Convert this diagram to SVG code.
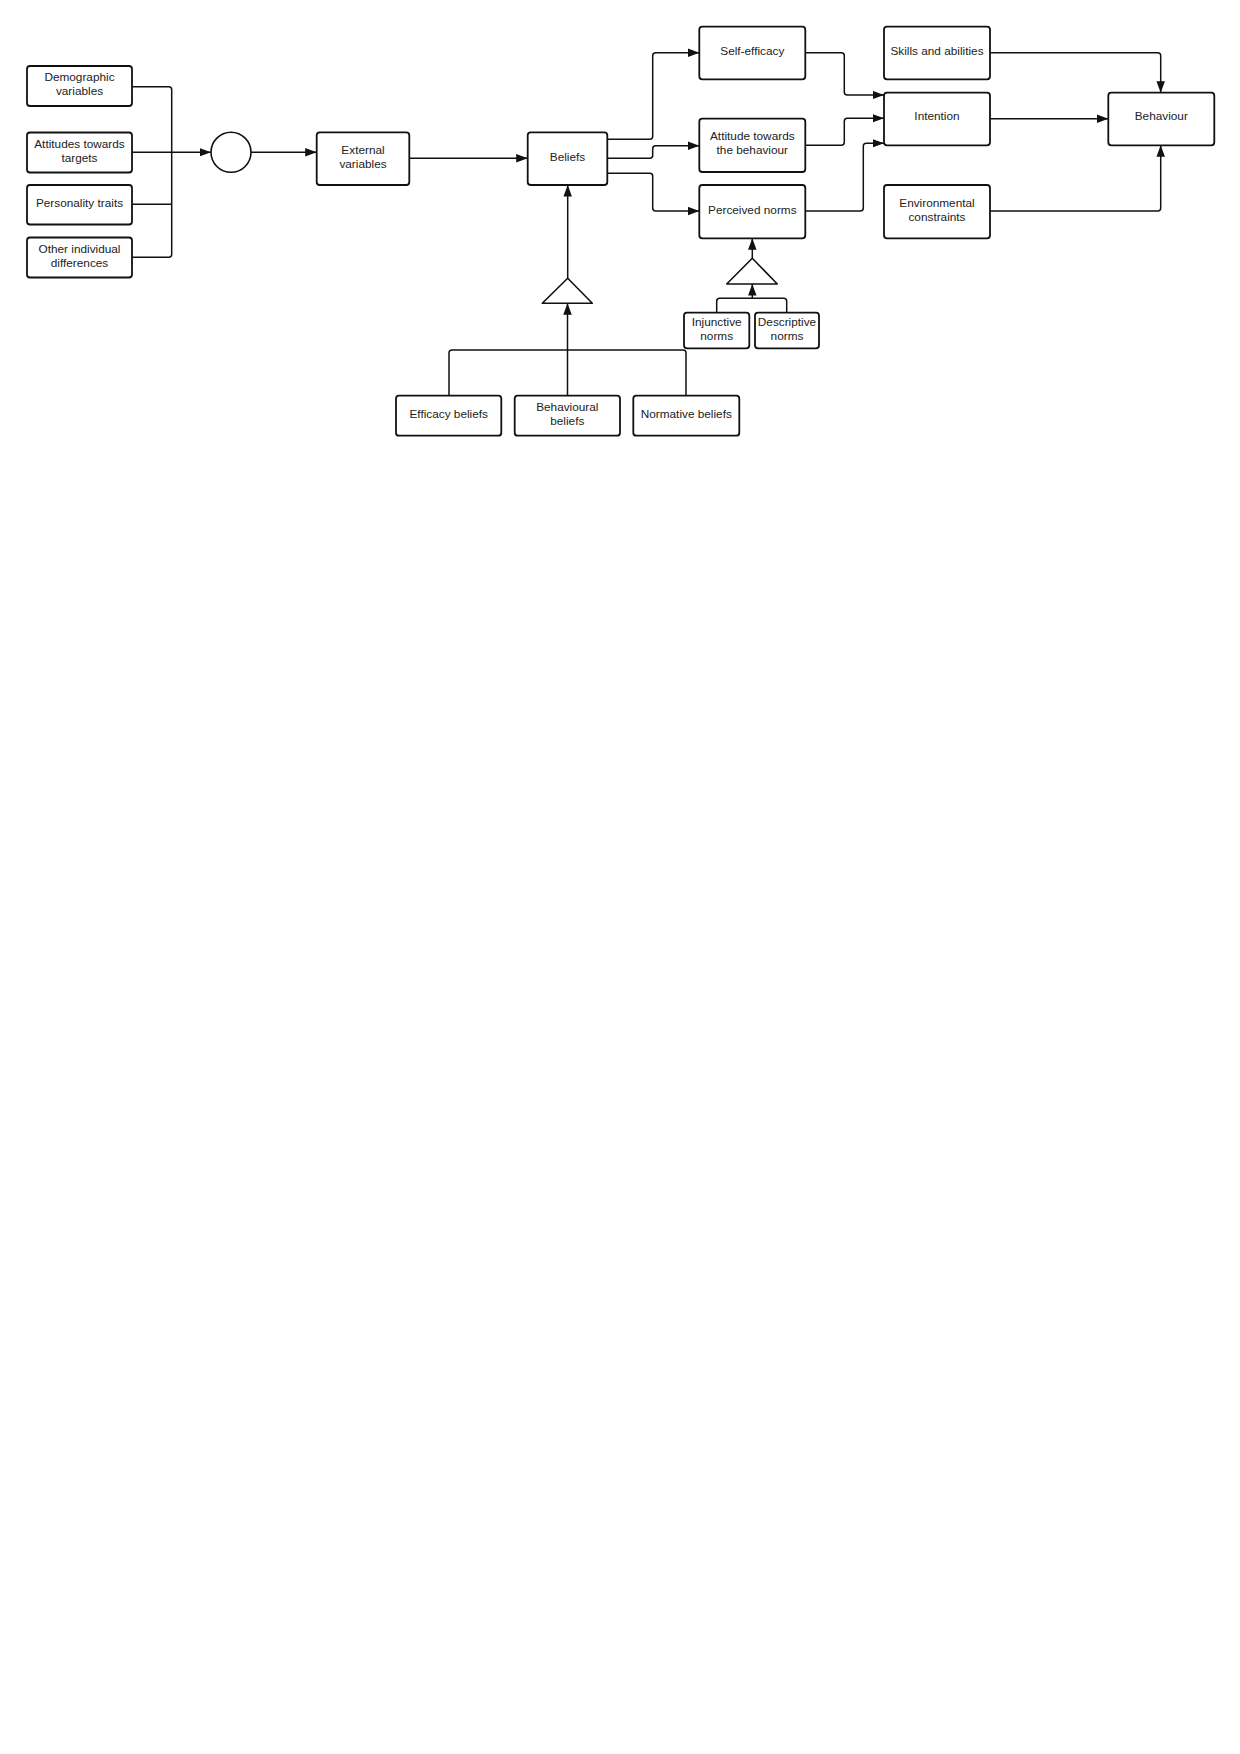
<svg xmlns="http://www.w3.org/2000/svg" width="1240" height="1754" viewBox="0 0 1240 1754">
  <style>
    .box { fill: #ffffff; stroke: #111111; stroke-width: 1.8; }
    .shape { fill: #ffffff; stroke: #111111; stroke-width: 1.6; }
    .wire { fill: none; stroke: #111111; stroke-width: 1.5; }
    .lbl { font-family: "Liberation Sans", Arial, sans-serif; font-size: 11.8px; fill: #222222; text-anchor: middle; }
  </style>
  <defs>
    <marker id="arrow" markerUnits="userSpaceOnUse" markerWidth="12" markerHeight="9" refX="11.5" refY="4.25" orient="auto">
      <path d="M0,0 L11.5,4.25 L0,8.5 z" fill="#111111"/>
    </marker>
  </defs>
  <rect width="1240" height="1754" fill="#ffffff"/>

  <!-- connectors -->
  <g id="connectors">
    <path class="wire" d="M132 86.7 H168.7 Q171.7 86.7 171.7 89.7 V254.3 Q171.7 257.3 168.7 257.3 H132"/>
    <path class="wire" d="M132 204.3 H171.7"/>
    <path class="wire" d="M132 152.3 H211" marker-end="url(#arrow)"/>
    <path class="wire" d="M251 152.3 H316.7" marker-end="url(#arrow)"/>
    <path class="wire" d="M409.3 158.3 H527.7" marker-end="url(#arrow)"/>
    <path class="wire" d="M607.3 139.3 H649.7 Q652.7 139.3 652.7 136.3 V55.7 Q652.7 52.7 655.7 52.7 H699.3" marker-end="url(#arrow)"/>
    <path class="wire" d="M607.3 158.3 H649.7 Q652.7 158.3 652.7 155.3 V148.7 Q652.7 145.7 655.7 145.7 H699.3" marker-end="url(#arrow)"/>
    <path class="wire" d="M607.3 173.3 H649.7 Q652.7 173.3 652.7 176.3 V208 Q652.7 211 655.7 211 H699.3" marker-end="url(#arrow)"/>
    <path class="wire" d="M805.3 52.7 H841.3 Q844.3 52.7 844.3 55.7 V92 Q844.3 95 847.3 95 H884" marker-end="url(#arrow)"/>
    <path class="wire" d="M805.3 145.3 H841.3 Q844.3 145.3 844.3 142.3 V121.3 Q844.3 118.3 847.3 118.3 H884" marker-end="url(#arrow)"/>
    <path class="wire" d="M805.3 211 H860.3 Q863.3 211 863.3 208 V146.3 Q863.3 143.3 866.3 143.3 H884" marker-end="url(#arrow)"/>
    <path class="wire" d="M990 118.7 H1108.3" marker-end="url(#arrow)"/>
    <path class="wire" d="M990 52.7 H1157.7 Q1160.7 52.7 1160.7 55.7 V92.7" marker-end="url(#arrow)"/>
    <path class="wire" d="M990 211 H1157.7 Q1160.7 211 1160.7 208 V145.3" marker-end="url(#arrow)"/>
    <path class="wire" d="M567.7 278.3 V185" marker-end="url(#arrow)"/>
    <path class="wire" d="M449 395.7 V353 Q449 350 452 350 H683 Q686 350 686 353 V395.7"/>
    <path class="wire" d="M567.5 395.7 V303.3" marker-end="url(#arrow)"/>
    <path class="wire" d="M752.3 258.3 V238.3" marker-end="url(#arrow)"/>
    <path class="wire" d="M716.7 312.7 V301.3 Q716.7 298.3 719.7 298.3 H783.7 Q786.7 298.3 786.7 301.3 V312.7"/>
    <path class="wire" d="M752.3 298.3 V284" marker-end="url(#arrow)"/>
  </g>

  <!-- left inputs -->
  <g id="demographic">
    <rect class="box" x="27" y="66" width="105" height="40" rx="3"/>
    <text class="lbl" x="79.5" y="81">Demographic</text>
    <text class="lbl" x="79.5" y="95">variables</text>
  </g>
  <g id="attitudes-targets">
    <rect class="box" x="27" y="132.5" width="105" height="40" rx="3"/>
    <text class="lbl" x="79.5" y="147.5">Attitudes towards</text>
    <text class="lbl" x="79.5" y="161.5">targets</text>
  </g>
  <g id="personality">
    <rect class="box" x="27" y="185" width="105" height="39.5" rx="3"/>
    <text class="lbl" x="79.5" y="206.5">Personality traits</text>
  </g>
  <g id="other-differences">
    <rect class="box" x="27" y="237.5" width="105" height="40" rx="3"/>
    <text class="lbl" x="79.5" y="252.5">Other individual</text>
    <text class="lbl" x="79.5" y="266.5">differences</text>
  </g>
  <g id="junction">
    <circle class="shape" cx="231" cy="152.3" r="20"/>
  </g>
  <g id="external">
    <rect class="box" x="316.7" y="132.3" width="92.6" height="52.7" rx="3"/>
    <text class="lbl" x="363" y="153.5">External</text>
    <text class="lbl" x="363" y="167.5">variables</text>
  </g>
  <g id="beliefs">
    <rect class="box" x="527.7" y="132.3" width="79.6" height="52.7" rx="3"/>
    <text class="lbl" x="567.5" y="160.5">Beliefs</text>
  </g>

  <!-- determinants -->
  <g id="self-efficacy">
    <rect class="box" x="699.3" y="26.7" width="106" height="52.6" rx="3"/>
    <text class="lbl" x="752.3" y="55">Self-efficacy</text>
  </g>
  <g id="attitude-behaviour">
    <rect class="box" x="699.3" y="118.7" width="106" height="53.3" rx="3"/>
    <text class="lbl" x="752.3" y="140.3">Attitude towards</text>
    <text class="lbl" x="752.3" y="154.3">the behaviour</text>
  </g>
  <g id="perceived-norms">
    <rect class="box" x="699.3" y="185" width="106" height="53.3" rx="3"/>
    <text class="lbl" x="752.3" y="213.5">Perceived norms</text>
  </g>
  <g id="skills">
    <rect class="box" x="884" y="26.7" width="106" height="52.6" rx="3"/>
    <text class="lbl" x="937" y="55">Skills and abilities</text>
  </g>
  <g id="intention">
    <rect class="box" x="884" y="92.7" width="106" height="52.6" rx="3"/>
    <text class="lbl" x="937" y="120">Intention</text>
  </g>
  <g id="environment">
    <rect class="box" x="884" y="185" width="106" height="53.3" rx="3"/>
    <text class="lbl" x="937" y="206.5">Environmental</text>
    <text class="lbl" x="937" y="220.5">constraints</text>
  </g>
  <g id="behaviour">
    <rect class="box" x="1108.3" y="92.7" width="106" height="52.6" rx="3"/>
    <text class="lbl" x="1161.3" y="120">Behaviour</text>
  </g>

  <!-- belief components -->
  <g id="beliefs-merge">
    <polygon class="shape" points="567.7,278.3 592.3,303.3 542.3,303.3" stroke-linejoin="round"/>
  </g>
  <g id="efficacy-beliefs">
    <rect class="box" x="396" y="395.7" width="105.3" height="40" rx="3"/>
    <text class="lbl" x="448.7" y="417.5">Efficacy beliefs</text>
  </g>
  <g id="behavioural-beliefs">
    <rect class="box" x="514.7" y="395.7" width="105.3" height="40" rx="3"/>
    <text class="lbl" x="567.3" y="410.5">Behavioural</text>
    <text class="lbl" x="567.3" y="424.5">beliefs</text>
  </g>
  <g id="normative-beliefs">
    <rect class="box" x="633.3" y="395.7" width="106" height="40" rx="3"/>
    <text class="lbl" x="686.3" y="417.5">Normative beliefs</text>
  </g>

  <!-- norm components -->
  <g id="norms-merge">
    <polygon class="shape" points="752.3,258.3 777.3,284 726.7,284" stroke-linejoin="round"/>
  </g>
  <g id="injunctive-norms">
    <rect class="box" x="684" y="312.7" width="65.3" height="35.6" rx="3"/>
    <text class="lbl" x="716.7" y="325.5">Injunctive</text>
    <text class="lbl" x="716.7" y="339.5">norms</text>
  </g>
  <g id="descriptive-norms">
    <rect class="box" x="755" y="312.7" width="64" height="35.6" rx="3"/>
    <text class="lbl" x="787" y="325.5">Descriptive</text>
    <text class="lbl" x="787" y="339.5">norms</text>
  </g>
</svg>
